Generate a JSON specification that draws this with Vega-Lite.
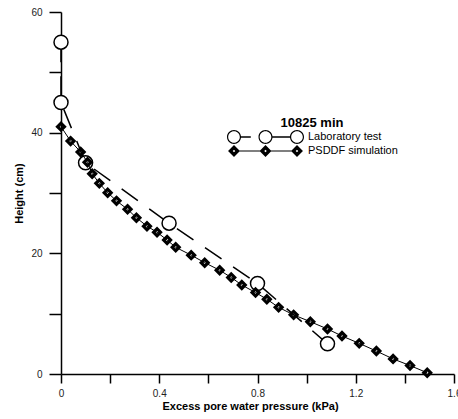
{
  "$schema": "https://vega.github.io/schema/vega-lite/v6.json",
  "width": 393,
  "height": 362,
  "autosize": {"type": "none"},
  "padding": {"left": 61, "top": 12, "right": 4, "bottom": 45},
  "background": "white",
  "config": {
    "view": {"stroke": null},
    "font": "Liberation Sans",
    "axis": {
      "grid": false,
      "ticks": true,
      "domainColor": "black",
      "domainWidth": 1.5,
      "tickColor": "black",
      "tickWidth": 1.5,
      "labelFont": "Liberation Sans",
      "labelFontSize": 10,
      "labelColor": "#222",
      "titleFont": "Liberation Sans",
      "titleFontSize": 11,
      "titleFontWeight": "bold",
      "titleColor": "black"
    }
  },
  "datasets": {
    "lab": [
      {"i": 1, "x": 0, "y": 55, "series": "Laboratory test"},
      {"i": 2, "x": 0, "y": 45, "series": "Laboratory test"},
      {"i": 3, "x": 0.1, "y": 35, "series": "Laboratory test"},
      {"i": 4, "x": 0.44, "y": 25, "series": "Laboratory test"},
      {"i": 5, "x": 0.8, "y": 15, "series": "Laboratory test"},
      {"i": 6, "x": 1.085, "y": 5, "series": "Laboratory test"}
    ],
    "psddf": [
      {"i": 1, "x": 0, "y": 41, "series": "PSDDF simulation"},
      {"i": 2, "x": 0.039, "y": 38.6, "series": "PSDDF simulation"},
      {"i": 3, "x": 0.08, "y": 36.8, "series": "PSDDF simulation"},
      {"i": 4, "x": 0.108, "y": 35.1, "series": "PSDDF simulation"},
      {"i": 5, "x": 0.127, "y": 33.2, "series": "PSDDF simulation"},
      {"i": 6, "x": 0.156, "y": 31.6, "series": "PSDDF simulation"},
      {"i": 7, "x": 0.19, "y": 30.05, "series": "PSDDF simulation"},
      {"i": 8, "x": 0.226, "y": 28.7, "series": "PSDDF simulation"},
      {"i": 9, "x": 0.271, "y": 27.3, "series": "PSDDF simulation"},
      {"i": 10, "x": 0.307, "y": 25.9, "series": "PSDDF simulation"},
      {"i": 11, "x": 0.35, "y": 24.5, "series": "PSDDF simulation"},
      {"i": 12, "x": 0.391, "y": 23.5, "series": "PSDDF simulation"},
      {"i": 13, "x": 0.432, "y": 22.2, "series": "PSDDF simulation"},
      {"i": 14, "x": 0.467, "y": 21.0, "series": "PSDDF simulation"},
      {"i": 15, "x": 0.53, "y": 19.7, "series": "PSDDF simulation"},
      {"i": 16, "x": 0.585, "y": 18.45, "series": "PSDDF simulation"},
      {"i": 17, "x": 0.646, "y": 17.2, "series": "PSDDF simulation"},
      {"i": 18, "x": 0.693, "y": 16.0, "series": "PSDDF simulation"},
      {"i": 19, "x": 0.736, "y": 14.75, "series": "PSDDF simulation"},
      {"i": 20, "x": 0.792, "y": 13.5, "series": "PSDDF simulation"},
      {"i": 21, "x": 0.838, "y": 12.4, "series": "PSDDF simulation"},
      {"i": 22, "x": 0.886, "y": 11.05, "series": "PSDDF simulation"},
      {"i": 23, "x": 0.947, "y": 9.8, "series": "PSDDF simulation"},
      {"i": 24, "x": 1.015, "y": 8.67, "series": "PSDDF simulation"},
      {"i": 25, "x": 1.085, "y": 7.46, "series": "PSDDF simulation"},
      {"i": 26, "x": 1.144, "y": 6.3, "series": "PSDDF simulation"},
      {"i": 27, "x": 1.214, "y": 5.08, "series": "PSDDF simulation"},
      {"i": 28, "x": 1.284, "y": 3.8, "series": "PSDDF simulation"},
      {"i": 29, "x": 1.352, "y": 2.5, "series": "PSDDF simulation"},
      {"i": 30, "x": 1.421, "y": 1.4, "series": "PSDDF simulation"},
      {"i": 31, "x": 1.491, "y": 0.2, "series": "PSDDF simulation"}
    ]
  },
  "encoding": {
    "x": {"field": "x", "type": "quantitative", "scale": {"domain": [0, 1.6], "nice": false, "zero": false},
      "axis": {"title": "Excess pore water pressure (kPa)", "values": [0, 0.2, 0.4, 0.6, 0.8, 1, 1.2, 1.4, 1.6], "format": ".1~f",
        "ticks": true, "tickSize": 9, "tickColor": "black", "tickWidth": 1.5, "tickOpacity": 1,
        "labelExpr": "round(datum.value*5)%2===0 ? datum.label : ''",
        "labelPadding": 5, "titlePadding": 2, "titleX": 189, "labelFlush": false, "labelOverlap": false}},
    "y": {"field": "y", "type": "quantitative", "scale": {"domain": [0, 60], "nice": false, "zero": false},
      "axis": {"title": "Height (cm)", "values": [0, 10, 20, 30, 40, 50, 60],
        "ticks": true, "tickSize": 12, "tickColor": "black", "tickWidth": 1.5, "tickOpacity": 1,
        "labelExpr": "datum.value%20===0 ? datum.label : ''",
        "labelPadding": 7, "titlePadding": 6, "labelFlush": false, "labelOverlap": false}}
  },
  "layer": [
    {
      "data": {"name": "lab"},
      "mark": {"type": "line", "stroke": "black", "strokeWidth": 1.5, "strokeDash": [20, 14]},
      "encoding": {"order": {"field": "i", "type": "quantitative"}}
    },
    {
      "data": {"name": "lab"},
      "mark": {"type": "point", "filled": true, "fill": "white", "stroke": "black", "strokeWidth": 1.5, "opacity": 1, "size": 196, "shape": "circle"},
      "encoding": {}
    },
    {
      "data": {"name": "psddf"},
      "mark": {"type": "line", "stroke": "black", "strokeWidth": 1},
      "encoding": {"order": {"field": "i", "type": "quantitative"}}
    },
    {
      "data": {"name": "psddf"},
      "mark": {"type": "point", "filled": true, "fill": "black", "strokeWidth": 0, "opacity": 1, "size": 130, "shape": "M-1,0L0,-1L1,0L0,1ZM-0.22,0L0,0.22L0.22,0L0,-0.22Z"},
      "encoding": {}
    },
    {
      "data": {"name": "lab"},
      "transform": [{"filter": "datum.i < 0"}],
      "mark": {"type": "point", "filled": true, "color": "black", "opacity": 1, "strokeWidth": 0},
      "encoding": {
        "shape": {"field": "series", "type": "nominal",
          "scale": {"domain": ["Laboratory test", "PSDDF simulation"], "range": [
            "M-1,0C-1,-0.5523,-0.5523,-1,0,-1C0.5523,-1,1,-0.5523,1,0C1,0.5523,0.5523,1,0,1C-0.5523,1,-1,0.5523,-1,0ZM-0.83,0C-0.83,0.4584,-0.4584,0.83,0,0.83C0.4584,0.83,0.83,0.4584,0.83,0C0.83,-0.4584,0.4584,-0.83,0,-0.83C-0.4584,-0.83,-0.83,-0.4584,-0.83,0ZM3.5,0C3.5,-0.5523,3.9477,-1,4.5,-1C5.0523,-1,5.5,-0.5523,5.5,0C5.5,0.5523,5.0523,1,4.5,1C3.9477,1,3.5,0.5523,3.5,0ZM3.67,0C3.67,0.4584,4.0416,0.83,4.5,0.83C4.9584,0.83,5.33,0.4584,5.33,0C5.33,-0.4584,4.9584,-0.83,4.5,-0.83C4.0416,-0.83,3.67,-0.4584,3.67,0ZM8,0C8,-0.5523,8.4477,-1,9,-1C9.5523,-1,10,-0.5523,10,0C10,0.5523,9.5523,1,9,1C8.4477,1,8,0.5523,8,0ZM8.17,0C8.17,0.4584,8.5416,0.83,9,0.83C9.4584,0.83,9.83,0.4584,9.83,0C9.83,-0.4584,9.4584,-0.83,9,-0.83C8.5416,-0.83,8.17,-0.4584,8.17,0ZM0.95,-0.09L2.4,-0.09L2.4,0.09L0.95,0.09ZM5.45,-0.09L8.05,-0.09L8.05,0.09L5.45,0.09Z",
            "M-0.85,0L0,-0.85L0.85,0L0,0.85ZM-0.18,0L0,0.18L0.18,0L0,-0.18ZM3.65,0L4.5,-0.85L5.35,0L4.5,0.85ZM4.32,0L4.5,0.18L4.68,0L4.5,-0.18ZM8.15,0L9,-0.85L9.85,0L9,0.85ZM8.82,0L9,0.18L9.18,0L9,-0.18ZM0.8,-0.08L3.7,-0.08L3.7,0.08L0.8,0.08ZM5.3,-0.08L8.2,-0.08L8.2,0.08L5.3,0.08Z"]},
          "legend": {
            "orient": "none", "legendX": 165, "legendY": 105, "padding": 0,
            "title": "10825 min", "titleFont": "Liberation Sans", "titleFontSize": 13, "titleFontWeight": "bold", "titleColor": "black",
            "titleAnchor": "middle", "titlePadding": 0,
            "labelFont": "Liberation Sans", "labelFontSize": 11, "labelColor": "black", "labelOffset": 66,
            "symbolSize": 196, "clipHeight": 14, "rowPadding": 0, "symbolFillColor": "black", "symbolOpacity": 1}}
      }
    }
  ]
}
